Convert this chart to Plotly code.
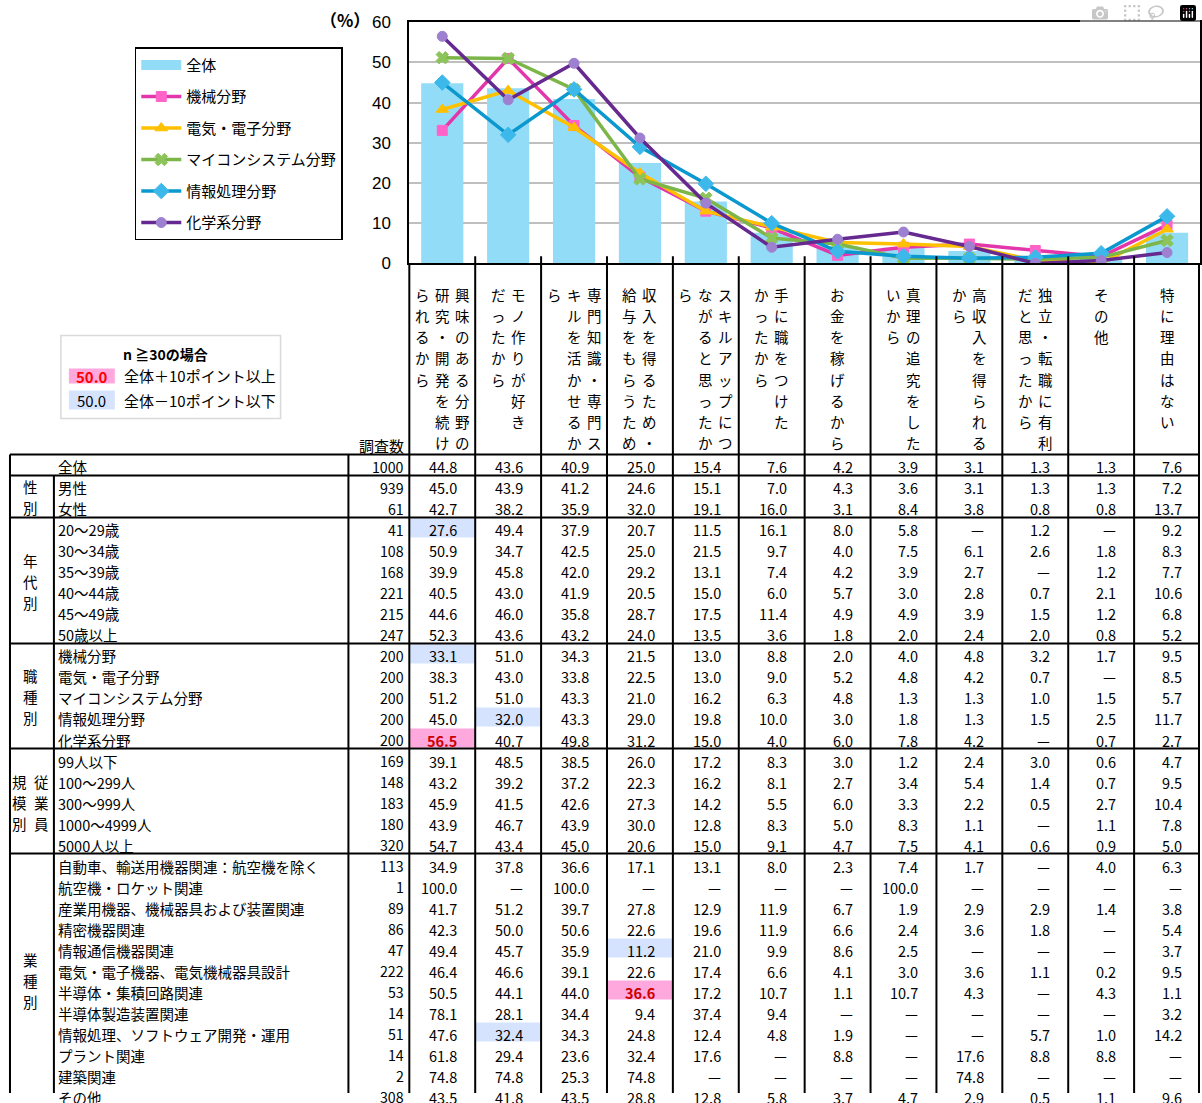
import plotly.graph_objects as go

W, H = 1202, 1103

# ---------------- data ----------------
reason_lines = [
    ["興味のある分野の", "研究・開発を続け", "られるから"],
    ["モノ作りが好き", "だったから"],
    ["専門知識・専門ス", "キルを活かせるか", "ら"],
    ["収入を得るため・", "給与をもらうため"],
    ["スキルアップにつ", "ながると思ったか", "ら"],
    ["手に職をつけた", "かったから"],
    ["お金を稼げるから"],
    ["真理の追究をした", "いから"],
    ["高収入を得られる", "から"],
    ["独立・転職に有利", "だと思ったから"],
    ["その他"],
    ["特に理由はない"],
]
reasons = ["".join(l) for l in reason_lines]

total_label = "全体"
total_n = 1000
total_values = [44.8, 43.6, 40.9, 25.0, 15.4, 7.6, 4.2, 3.9, 3.1, 1.3, 1.3, 7.6]

gender_labels = ["男性", "女性"]
gender_n = [939, 61]
gender_values = [
    [45.0, 43.9, 41.2, 24.6, 15.1, 7.0, 4.3, 3.6, 3.1, 1.3, 1.3, 7.2],
    [42.7, 38.2, 35.9, 32.0, 19.1, 16.0, 3.1, 8.4, 3.8, 0.8, 0.8, 13.7],
]

age_labels = ["20～29歳", "30～34歳", "35～39歳", "40～44歳", "45～49歳", "50歳以上"]
age_n = [41, 108, 168, 221, 215, 247]
age_values = [
    [27.6, 49.4, 37.9, 20.7, 11.5, 16.1, 8.0, 5.8, None, 1.2, None, 9.2],
    [50.9, 34.7, 42.5, 25.0, 21.5, 9.7, 4.0, 7.5, 6.1, 2.6, 1.8, 8.3],
    [39.9, 45.8, 42.0, 29.2, 13.1, 7.4, 4.2, 3.9, 2.7, None, 1.2, 7.7],
    [40.5, 43.0, 41.9, 20.5, 15.0, 6.0, 5.7, 3.0, 2.8, 0.7, 2.1, 10.6],
    [44.6, 46.0, 35.8, 28.7, 17.5, 11.4, 4.9, 4.9, 3.9, 1.5, 1.2, 6.8],
    [52.3, 43.6, 43.2, 24.0, 13.5, 3.6, 1.8, 2.0, 2.4, 2.0, 0.8, 5.2],
]

job_labels = ["機械分野", "電気・電子分野", "マイコンシステム分野", "情報処理分野", "化学系分野"]
job_n = [200, 200, 200, 200, 200]
job_values = [
    [33.1, 51.0, 34.3, 21.5, 13.0, 8.8, 2.0, 4.0, 4.8, 3.2, 1.7, 9.5],
    [38.3, 43.0, 33.8, 22.5, 13.0, 9.0, 5.2, 4.8, 4.2, 0.7, None, 8.5],
    [51.2, 51.0, 43.3, 21.0, 16.2, 6.3, 4.8, 1.3, 1.3, 1.0, 1.5, 5.7],
    [45.0, 32.0, 43.3, 29.0, 19.8, 10.0, 3.0, 1.8, 1.3, 1.5, 2.5, 11.7],
    [56.5, 40.7, 49.8, 31.2, 15.0, 4.0, 6.0, 7.8, 4.2, None, 0.7, 2.7],
]

size_labels = ["99人以下", "100～299人", "300～999人", "1000～4999人", "5000人以上"]
size_n = [169, 148, 183, 180, 320]
size_values = [
    [39.1, 48.5, 38.5, 26.0, 17.2, 8.3, 3.0, 1.2, 2.4, 3.0, 0.6, 4.7],
    [43.2, 39.2, 37.2, 22.3, 16.2, 8.1, 2.7, 3.4, 5.4, 1.4, 0.7, 9.5],
    [45.9, 41.5, 42.6, 27.3, 14.2, 5.5, 6.0, 3.3, 2.2, 0.5, 2.7, 10.4],
    [43.9, 46.7, 43.9, 30.0, 12.8, 8.3, 5.0, 8.3, 1.1, None, 1.1, 7.8],
    [54.7, 43.4, 45.0, 20.6, 15.0, 9.1, 4.7, 7.5, 4.1, 0.6, 0.9, 5.0],
]

industry_labels = [
    "自動車、輸送用機器関連：航空機を除く", "航空機・ロケット関連", "産業用機器、機械器具および装置関連",
    "精密機器関連", "情報通信機器関連", "電気・電子機器、電気機械器具設計", "半導体・集積回路関連",
    "半導体製造装置関連", "情報処理、ソフトウェア開発・運用", "プラント関連", "建築関連", "その他",
]
industry_n = [113, 1, 89, 86, 47, 222, 53, 14, 51, 14, 2, 308]
industry_values = [
    [34.9, 37.8, 36.6, 17.1, 13.1, 8.0, 2.3, 7.4, 1.7, None, 4.0, 6.3],
    [100.0, None, 100.0, None, None, None, None, 100.0, None, None, None, None],
    [41.7, 51.2, 39.7, 27.8, 12.9, 11.9, 6.7, 1.9, 2.9, 2.9, 1.4, 3.8],
    [42.3, 50.0, 50.6, 22.6, 19.6, 11.9, 6.6, 2.4, 3.6, 1.8, None, 5.4],
    [49.4, 45.7, 35.9, 11.2, 21.0, 9.9, 8.6, 2.5, None, None, None, 3.7],
    [46.4, 46.6, 39.1, 22.6, 17.4, 6.6, 4.1, 3.0, 3.6, 1.1, 0.2, 9.5],
    [50.5, 44.1, 44.0, 36.6, 17.2, 10.7, 1.1, 10.7, 4.3, None, 4.3, 1.1],
    [78.1, 28.1, 34.4, 9.4, 37.4, 9.4, None, None, None, None, None, 3.2],
    [47.6, 32.4, 34.3, 24.8, 12.4, 4.8, 1.9, None, None, 5.7, 1.0, 14.2],
    [61.8, 29.4, 23.6, 32.4, 17.6, None, 8.8, None, 17.6, 8.8, 8.8, None],
    [74.8, 74.8, 25.3, 74.8, None, None, None, None, 74.8, None, None, None],
    [43.5, 41.8, 43.5, 28.8, 12.8, 5.8, 3.7, 4.7, 2.9, 0.5, 1.1, 9.6],
]

# section title columns (vertical text, right column first)
sections = [
    ([], [total_label], [total_n], [total_values]),
    (["性別"], gender_labels, gender_n, gender_values),
    (["年代別"], age_labels, age_n, age_values),
    (["職種別"], job_labels, job_n, job_values),
    (["従業員", "規模別"], size_labels, size_n, size_values),
    (["業種別"], industry_labels, industry_n, industry_values),
]

# ---------------- styles ----------------
FONT = "Noto Sans CJK JP, Noto Sans, sans-serif"
bar_color = "#93DCF7"
series_style = [
    dict(line="#E236AA", marker="#FF63C9", symbol="square", size=10),
    dict(line="#FFC000", marker="#FFC000", symbol="triangle-up", size=11),
    dict(line="#7CB548", marker="#8CC45A", symbol="x", size=11),
    dict(line="#0A98CF", marker="#3CB9EA", symbol="diamond", size=12),
    dict(line="#66298F", marker="#9D80D0", symbol="circle", size=10),
]
PINK_BG, PINK_TXT = "#FFA8DE", "#CC0000"
BLUE_BG = "#D5E3FF"

# layout in target-picture pixels
PLOT_L, PLOT_R, PLOT_T, PLOT_B = 410, 1202, 23, 264
CAT_PX = (PLOT_R - PLOT_L) / len(reasons)
TABLE_T, ROW_H = 455, 21
LEFT = 10
GROUP_R = 54
COUNT_L = 349
TFS = 14.2          # table font size
VFS = 14.5          # vertical text font size
HEAD_Y0, HEAD_PITCH, HEAD_COLGAP = 295, 21.2, 20
# vertical calibration of the rendered picture (picture_y = SQ * page_y + PAD)
SQ, PAD = 0.9825, 9.7


def xp(px):
    return px / W


def yp(py):
    return 1 - ((py - PAD) / SQ) / H


fig = go.Figure()

# legend entry for the bars drawn as a wide swatch (no points of its own)
fig.add_trace(go.Scatter(
    x=reasons, y=[None] * len(reasons), name=total_label, mode="lines",
    line=dict(color=bar_color, width=12), legendgroup="g0", hoverinfo="skip",
))
fig.add_trace(go.Bar(
    x=reasons, y=total_values, name=total_label, marker=dict(color=bar_color, line=dict(width=0)),
    width=0.64, legendgroup="g0", showlegend=False,
))
for k, (name, vals) in enumerate(zip(job_labels, job_values)):
    st = series_style[k]
    fig.add_trace(go.Scatter(
        x=reasons, y=[v if v is not None else 0 for v in vals], name=name, mode="lines+markers",
        line=dict(color=st["line"], width=3.5),
        marker=dict(symbol=st["symbol"], size=st["size"], color=st["marker"],
                    line=dict(color=st["marker"], width=1)),
        legendgroup=f"g{k+1}",
    ))

shapes = []
annotations = []


def ann(text, x, y, xanchor="center", size=TFS, color="black", xref="paper", xshift=0):
    annotations.append(dict(text=text, x=x, y=y, xref=xref, yref="paper", xshift=xshift,
                            xanchor=xanchor, yanchor="middle", showarrow=False, borderpad=0,
                            font=dict(family=FONT, size=size, color=color)))


# "(%)" label
ann("<b>（%）</b>", xp(372), yp(20), xanchor="right", size=17)

# column headers (vertical text, one glyph per annotation)
for i, lines in enumerate(reason_lines):
    n = len(lines)
    for j, line in enumerate(lines):
        off = ((n - 1) / 2 - j) * HEAD_COLGAP
        for k, ch in enumerate(line):
            ann(ch, i, yp(HEAD_Y0 + k * HEAD_PITCH), xref="x", xshift=off, size=VFS)

ann("調査数", xp(406), yp(446), xanchor="right", size=15)

# table body
row = 0
group_lines = [TABLE_T]
for titles, labels, ns, vals_list in sections:
    start = row
    for lab, n, vals in zip(labels, ns, vals_list):
        top = TABLE_T + row * ROW_H
        cy = yp(top + ROW_H / 2 + 2)
        ann(lab, xp(57), cy, xanchor="left", size=TFS + 0.3)
        ann(str(n), xp(406), cy, xanchor="right")
        for c, v in enumerate(vals):
            color = "black"
            bold = False
            if titles and n >= 30:
                d = round((v or 0) - total_values[c], 1)
                if d >= 10 or d <= -10:
                    shapes.append(dict(type="rect", xref="x", yref="paper", x0=c - 0.5, x1=c + 0.5,
                                       y0=yp(top + 1), y1=yp(top + ROW_H - 1),
                                       fillcolor=PINK_BG if d >= 10 else BLUE_BG,
                                       line=dict(width=0), layer="below"))
                    if d >= 10:
                        color, bold = PINK_TXT, True
            txt = "—" if v is None else f"{v:.1f}"
            if bold:
                txt = f"<b>{txt}</b>"
            ann(txt, c, cy, xanchor="right", xref="x", xshift=CAT_PX / 2 - 17, color=color,
                size=TFS + 0.3)
        row += 1
    end = row
    group_lines.append(TABLE_T + end * ROW_H)
    if titles:
        mid = TABLE_T + (start + end) / 2 * ROW_H
        nt = len(titles)
        for j, t in enumerate(titles):
            off = ((nt - 1) / 2 - j) * 22
            for k, ch in enumerate(t):
                ann(ch, xp(31 + off), yp(mid + (k - (len(t) - 1) / 2) * 21 + 1), size=VFS)

LW = 2
# horizontal lines
for gy in group_lines:
    shapes.append(dict(type="line", xref="paper", yref="paper", x0=xp(LEFT), x1=1,
                       y0=yp(gy), y1=yp(gy), line=dict(color="black", width=LW)))
# vertical table lines
for px in [LEFT, COUNT_L]:
    shapes.append(dict(type="line", xref="paper", yref="paper", x0=xp(px), x1=xp(px),
                       y0=yp(TABLE_T), y1=0, line=dict(color="black", width=LW)))
shapes.append(dict(type="line", xref="paper", yref="paper", x0=xp(GROUP_R), x1=xp(GROUP_R),
                   y0=yp(TABLE_T + ROW_H), y1=0, line=dict(color="black", width=LW)))
for px in [PLOT_L, W - 1]:
    shapes.append(dict(type="line", xref="paper", yref="paper", x0=xp(px), x1=xp(px),
                       y0=yp(PLOT_B), y1=0, line=dict(color="black", width=LW)))
for c in range(1, len(reasons)):
    shapes.append(dict(type="line", xref="x", yref="paper", x0=c - 0.5, x1=c - 0.5,
                       y0=yp(PLOT_B - 7), y1=0, line=dict(color="black", width=LW)))

# n>=30 legend box
shapes.append(dict(type="rect", xref="paper", yref="paper", x0=xp(61), x1=xp(281),
                   y0=yp(336), y1=yp(419), line=dict(color="#D9D9D9", width=1.5),
                   fillcolor="white"))
shapes.append(dict(type="rect", xref="paper", yref="paper", x0=xp(69), x1=xp(115),
                   y0=yp(369), y1=yp(384), line=dict(width=0), fillcolor=PINK_BG))
shapes.append(dict(type="rect", xref="paper", yref="paper", x0=xp(69), x1=xp(115),
                   y0=yp(391), y1=yp(410), line=dict(width=0), fillcolor=BLUE_BG))
ann("<b>n ≧30の場合</b>", xp(122), yp(355), xanchor="left", size=14)
ann("<b>50.0</b>", xp(92), yp(377), size=15, color="#FF0000")
ann("全体＋10ポイント以上", xp(123), yp(376), xanchor="left", size=15)
ann("50.0", xp(92), yp(401), size=15)
ann("全体－10ポイント以下", xp(123), yp(401), xanchor="left", size=15)

fig.update_layout(
    autosize=True, margin=dict(l=0, r=0, t=0, b=0),
    paper_bgcolor="white", plot_bgcolor="white",
    showlegend=True,
    legend=dict(x=xp(135), y=yp(48), xanchor="left", yanchor="top",
                bgcolor="white", bordercolor="black", borderwidth=1.5,
                font=dict(family=FONT, size=15, color="black"),
                tracegroupgap=9, itemwidth=40, traceorder="grouped"),
    xaxis=dict(domain=[xp(PLOT_L), 1], range=[-0.5, len(reasons) - 0.5], showticklabels=False,
               showline=True, mirror=True, linecolor="black", linewidth=2, showgrid=False,
               ticks="", zeroline=False, fixedrange=True),
    yaxis=dict(domain=[yp(PLOT_B), yp(PLOT_T)], range=[0, 60], dtick=10, showgrid=True,
               gridcolor="#BFBFBF", gridwidth=1.5, showline=True, mirror=True,
               linecolor="black", linewidth=2, zeroline=False, ticks="",
               ticklabelstandoff=13,
               tickfont=dict(family="Liberation Sans, Arial, sans-serif", size=17, color="black"),
               fixedrange=True),
    shapes=shapes, annotations=annotations,
)

# the graph div is pinned to the top-left corner of the 1202x1103 window
fig.write_html("out.html", default_width=f"{W}px",
               default_height=f"{H}px; position:fixed; top:0; left:0; margin:0")
